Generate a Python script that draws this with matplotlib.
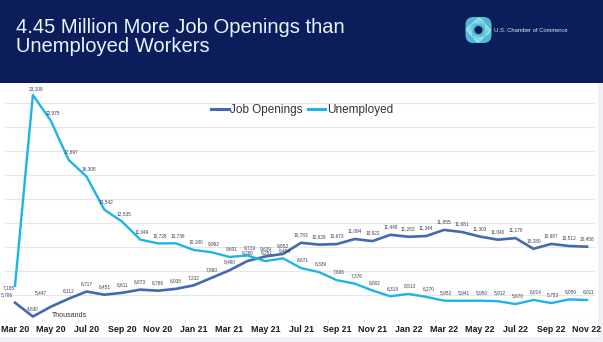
import matplotlib
matplotlib.use("Agg")
import matplotlib.pyplot as plt
import matplotlib.patches as mpatches
import numpy as np

# monthly data, thousands
months = ["Mar 20", "Apr 20", "May 20", "Jun 20", "Jul 20", "Aug 20", "Sep 20", "Oct 20",
          "Nov 20", "Dec 20", "Jan 21", "Feb 21", "Mar 21", "Apr 21", "May 21", "Jun 21",
          "Jul 21", "Aug 21", "Sep 21", "Oct 21", "Nov 21", "Dec 21", "Jan 22", "Feb 22",
          "Mar 22", "Apr 22", "May 22", "Jun 22", "Jul 22", "Aug 22", "Sep 22", "Oct 22",
          "Nov 22"]
job_openings = [5786, 4630, 5447, 6112, 6717, 6451, 6611, 6873, 6786, 6938, 7232, 7860,
                8490, 9260, 9639, 9852, 10783, 10629, 10673, 11094, 10922, 11448, 11283,
                11344, 11855, 11681, 11303, 11040, 11170, 10280, 10687, 10512, 10458]
unemployed = [7185, 23109, 20975, 17697, 16308, 13542, 12535, 11049, 10728, 10736, 10180,
              9992, 9601, 9719, 9251, 9484, 8671, 8339, 7666, 7376, 6802, 6319, 6513, 6270,
              5952, 5941, 5950, 5912, 5670, 6014, 5753, 6059, 6011]

navy = "#0B1E5B"
c_jo = "#4568B2"
c_un = "#1DB4E8"
lab_col = "#3C3C5A"

plt.rcParams["font.family"] = ["Liberation Sans", "DejaVu Sans"]

fig = plt.figure(figsize=(6.03, 3.42), dpi=100)
fig.patch.set_facecolor("#EEF0F3")

# background in pixel coords
bg = fig.add_axes([0, 0, 1, 1])
bg.set_xlim(0, 603)
bg.set_ylim(342, 0)
bg.axis("off")
bg.add_patch(mpatches.Rectangle((0, 83), 598, 254, color="white", lw=0))
bg.add_patch(mpatches.Rectangle((0, 0), 603, 83, color=navy, lw=0))
bg.text(16, 32.7, "4.45 Million More Job Openings than", color="#EAF4FF",
        fontsize=14.5, va="baseline", ha="left")
bg.text(16, 51.7, "Unemployed Workers", color="#EAF4FF",
        fontsize=14.5, va="baseline", ha="left")

# logo (rough swirl)
cx, cy = 478.5, 30
bg.add_patch(mpatches.FancyBboxPatch((cx - 11, cy - 11), 22, 22,
                                     boxstyle="round,pad=2,rounding_size=8",
                                     color="#4DBBD3", lw=0))
cols = plt.cm.colors.LinearSegmentedColormap.from_list("lg", ["#B5ECF0", "#3FB0CE"])
for i in range(16):
    poly = mpatches.RegularPolygon((cx, cy), 4, radius=12.5 - i * 0.5,
                                   orientation=np.radians(i * 5.6), fill=False,
                                   edgecolor=cols(i / 15), lw=0.5)
    bg.add_patch(poly)
bg.add_patch(mpatches.Circle((cx, cy), 4, color=navy, lw=0))
bg.text(494, 30, "U.S. Chamber of Commerce", color="#DDE8F5", fontsize=4.2,
        va="center", ha="left")

bg.text(69, 315.7, "Thousands", fontsize=5, color="#333333", ha="center", va="center")

# main chart
ax = fig.add_axes([5.17 / 603, (342 - 318.7) / 342, 589.9 / 603, 235.7 / 342])
ax.patch.set_alpha(0)
ax.set_xlim(-0.55, 32.45)
ax.set_ylim(4450, 24108)
for s in ax.spines.values():
    s.set_visible(False)
ax.set_yticks(np.arange(4450, 24108, 2000))
ax.yaxis.grid(True, color="#E4E6EA", lw=0.8)
ax.tick_params(axis="y", length=0, labelleft=False)
ax.set_axisbelow(True)

x = np.arange(len(months))
ax.plot(x, job_openings, color=c_jo, lw=1.9, label="Job Openings", solid_joinstyle="round")
ax.plot(x, unemployed, color=c_un, lw=1.7, label="Unemployed", solid_joinstyle="round")

ax.set_xticks(x[::2])
ax.set_xticklabels(months[::2], fontsize=6.4, fontweight="bold", color="#1B1B1B")
ax.tick_params(axis="x", which="major", length=0, pad=4.3)
ax.set_xticks(np.arange(-0.5, 33, 2), minor=True)
ax.tick_params(axis="x", which="minor", length=2.5, color="#D5D7DB", width=0.6)

# data labels
jo_off = {0: (-8, 8), 2: (-10, 14)}
un_off = {0: (-6, -2), 1: (3, 6)}
for i, v in enumerate(job_openings):
    dx, dy = jo_off.get(i, (0, 8))
    ax.annotate(f"{v:,}", (i, v), xytext=(dx, dy), textcoords="offset pixels",
                ha="center", va="center", fontsize=3.4, color=lab_col)
for i, v in enumerate(unemployed):
    dx, dy = un_off.get(i, (2, 8))
    ax.annotate(f"{v:,}", (i, v), xytext=(dx, dy), textcoords="offset pixels",
                ha="center", va="center", fontsize=3.4, color=lab_col)

leg = ax.legend(loc="center", bbox_to_anchor=(302 / 603, (342 - 110) / 342),
                bbox_transform=fig.transFigure, ncol=2, frameon=False, fontsize=8.5,
                handlelength=1.5, handletextpad=0.15, columnspacing=0.4)
for t in leg.get_texts():
    t.set_color("#333333")
for h in leg.get_lines():
    h.set_linewidth(2.2)

fig.savefig("out.png", dpi=100)
